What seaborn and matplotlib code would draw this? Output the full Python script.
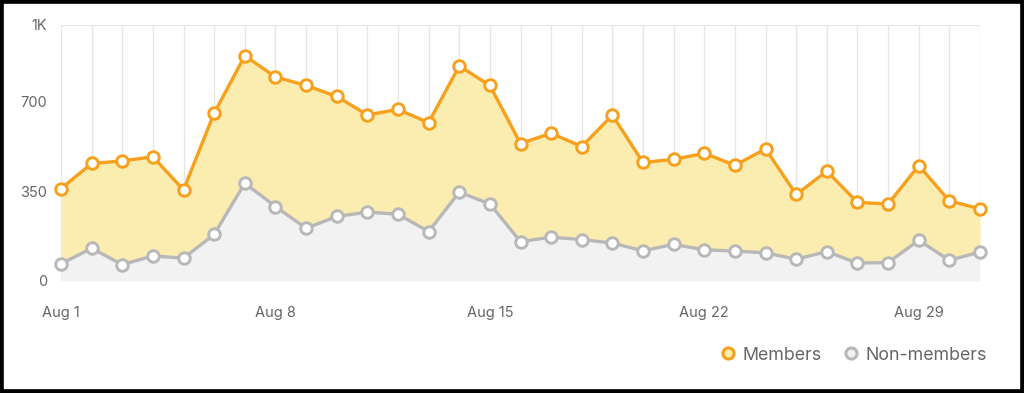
import matplotlib
matplotlib.use("Agg")
import matplotlib.pyplot as plt
from matplotlib.lines import Line2D
from matplotlib.patches import Rectangle
import seaborn as sns
import pandas as pd
import numpy as np

days = list(range(1, 32))
members = [361, 459, 469, 485, 356, 656, 880, 797, 764, 721, 649, 670, 619, 840, 764,
           537, 577, 525, 648, 463, 475, 499, 452, 516, 338, 429, 307, 301, 451, 313, 282]
non_members = [67, 128, 64, 98, 89, 182, 382, 291, 206, 252, 269, 261, 193, 347, 301,
               154, 171, 162, 148, 118, 143, 122, 117, 110, 85, 115, 70, 72, 159, 81, 113]
xtick_days = [1, 8, 15, 22, 29]
xtick_labels = ["Aug 1", "Aug 8", "Aug 15", "Aug 22", "Aug 29"]
ytick_vals = [0, 350, 700, 1000]
ytick_labels = ["0", "350", "700", "1K"]

ORANGE = "#F7A01C"
YELLOW = "#FBECB0"
GRAY = "#B8B8B8"
LIGHTGRAY = "#F2F2F2"
TEXT = "#666666"

sns.set_style("white")
plt.rcParams['font.family'] = ['Inter', 'DejaVu Sans']

df = pd.DataFrame({"day": days, "Members": members, "Non-members": non_members})

fig = plt.figure(figsize=(10.24, 3.93), dpi=100)
ax = fig.add_axes([61/1024, 1-281/393, (980-61)/1024, (281-25)/393])

ax.fill_between(df["day"], 0, df["Non-members"], color=LIGHTGRAY, lw=0, zorder=1)
ax.fill_between(df["day"], df["Non-members"], df["Members"], color=YELLOW, lw=0, zorder=1)

for d in days:
    ax.axvline(d, color="#E6E6E6", lw=1, zorder=0.5)
ax.axhline(1000, color="#E6E6E6", lw=1, zorder=0.5)
ax.axhline(0, color="#EEEEEE", lw=1, zorder=0.5)

sns.lineplot(data=df, x="day", y="Non-members", ax=ax, color=GRAY, lw=2.4,
             marker="o", markersize=8.3, markerfacecolor="white", markeredgecolor=GRAY,
             markeredgewidth=2.1, clip_on=False, zorder=3)
sns.lineplot(data=df, x="day", y="Members", ax=ax, color=ORANGE, lw=2.4,
             marker="o", markersize=8.3, markerfacecolor="white", markeredgecolor=ORANGE,
             markeredgewidth=2.1, clip_on=False, zorder=4)

ax.set_xlim(1, 31)
ax.set_ylim(0, 1000)
ax.set_xticks(xtick_days)
ax.set_xticklabels(xtick_labels)
ax.set_yticks(ytick_vals)
ax.set_yticklabels(ytick_labels)
ax.set_xlabel("")
ax.set_ylabel("")
ax.tick_params(axis="x", length=0, pad=18, labelsize=10.5, labelcolor=TEXT)
ax.tick_params(axis="y", length=0, pad=10, labelsize=10.5, labelcolor=TEXT)
for s in ax.spines.values():
    s.set_visible(False)

handles = [
    Line2D([], [], ls="none", marker="o", markersize=8, markerfacecolor=YELLOW,
           markeredgecolor=ORANGE, markeredgewidth=2.2),
    Line2D([], [], ls="none", marker="o", markersize=8, markerfacecolor=LIGHTGRAY,
           markeredgecolor=GRAY, markeredgewidth=2.2),
]
leg = fig.legend(handles, ["Members", "Non-members"], loc="center right",
                 bbox_to_anchor=(987/1024, 1-355/393), ncol=2, frameon=False,
                 fontsize=12.8, handletextpad=0.3, columnspacing=1.2, handlelength=1.0,
                 borderaxespad=0, borderpad=0)
for t in leg.get_texts():
    t.set_color(TEXT)

fig.patches.append(Rectangle((0, 0), 1, 1, transform=fig.transFigure, fill=False,
                             edgecolor="black", lw=5.5, zorder=10))

fig.savefig("out.png", dpi=100)
